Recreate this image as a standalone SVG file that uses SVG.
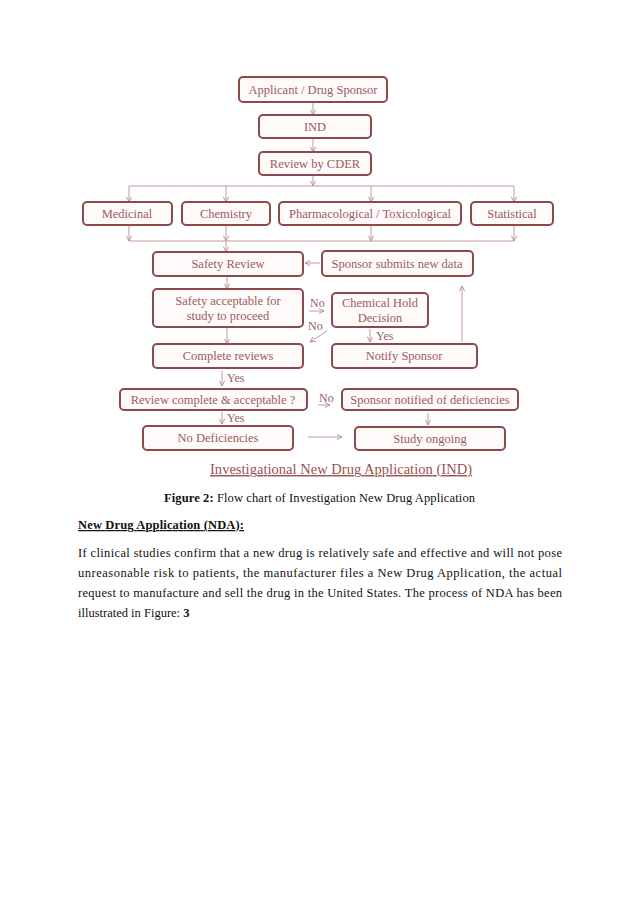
<svg xmlns="http://www.w3.org/2000/svg" width="638" height="903" viewBox="0 0 638 903">
<style>
.box{fill:#fffafa;stroke:#8c4a4a;stroke-width:2}
.bt{font-family:"Liberation Serif",serif;font-size:12.5px;fill:#9a5c5c;text-anchor:middle}
.lbl{font-family:"Liberation Serif",serif;font-size:12px;fill:#9a5c5c}
.c{fill:none;stroke:#c49a9a;stroke-width:1}
.ca{fill:none;stroke:#c49a9a;stroke-width:1;marker-end:url(#ah)}
.body{font-family:"Liberation Serif",serif;font-size:12.5px;fill:#111}
</style>
<defs>
<marker id="ah" viewBox="0 0 8 8" refX="7" refY="4" markerWidth="7" markerHeight="7" orient="auto" markerUnits="userSpaceOnUse">
<path d="M1,1 L7,4 L1,7" fill="none" stroke="#b58585" stroke-width="1"/>
</marker>
</defs>
<rect width="638" height="903" fill="#ffffff"/>
<g id="connectors">
<path class="ca" d="M313,102 V115"/>
<path class="ca" d="M313,138 V152"/>
<path class="ca" d="M313,175 V186"/>
<path class="c" d="M129,186 H514"/>
<path class="ca" d="M129,186 V202"/>
<path class="ca" d="M226,186 V202"/>
<path class="ca" d="M371,186 V202"/>
<path class="ca" d="M514,186 V202"/>
<path class="ca" d="M129,225 V241"/>
<path class="ca" d="M226,225 V241"/>
<path class="ca" d="M371,225 V241"/>
<path class="ca" d="M514,225 V241"/>
<path class="c" d="M129,241 H514"/>
<path class="ca" d="M226,241 V252"/>
<path class="ca" d="M227,276 V289"/>
<path class="ca" d="M227,327 V344"/>
<path class="ca" d="M320,263 H305"/>
<path class="ca" d="M309,311 H324"/>
<path class="ca" d="M327,331 L310,342"/>
<path class="ca" d="M370,329 V342"/>
<path class="ca" d="M462,342 V286"/>
<path class="ca" d="M222,371 V386"/>
<path class="ca" d="M318,405 H330"/>
<path class="ca" d="M222,412 V424"/>
<path class="ca" d="M428,413 V425"/>
<path class="ca" d="M308,437 H342"/>
<text class="lbl" x="310" y="307">No</text>
<text class="lbl" x="308" y="330">No</text>
<text class="lbl" x="376" y="340">Yes</text>
<text class="lbl" x="227" y="382">Yes</text>
<text class="lbl" x="319" y="402">No</text>
<text class="lbl" x="227" y="422">Yes</text>
</g>
<g id="applicant"><rect class="box" x="239" y="77" width="148" height="25" rx="4"/><text class="bt" x="313" y="94">Applicant / Drug Sponsor</text></g>
<g id="ind"><rect class="box" x="259" y="115" width="112" height="23" rx="4"/><text class="bt" x="315" y="131">IND</text></g>
<g id="review-cder"><rect class="box" x="259" y="152" width="112" height="23" rx="4"/><text class="bt" x="315" y="168">Review by CDER</text></g>
<g id="medicinal"><rect class="box" x="83" y="202" width="89" height="23" rx="4"/><text class="bt" x="127" y="218">Medicinal</text></g>
<g id="chemistry"><rect class="box" x="182" y="202" width="88" height="23" rx="4"/><text class="bt" x="226" y="218">Chemistry</text></g>
<g id="pharma"><rect class="box" x="279" y="202" width="182" height="23" rx="4"/><text class="bt" x="370" y="218">Pharmacological / Toxicological</text></g>
<g id="statistical"><rect class="box" x="471" y="202" width="82" height="23" rx="4"/><text class="bt" x="512" y="218">Statistical</text></g>
<g id="safety-review"><rect class="box" x="153" y="252" width="150" height="24" rx="4"/><text class="bt" x="228" y="268">Safety Review</text></g>
<g id="sponsor-submits"><rect class="box" x="322" y="251" width="151" height="25" rx="4"/><text class="bt" x="397" y="268">Sponsor submits new data</text></g>
<g id="safety-acceptable"><rect class="box" x="153" y="289" width="150" height="38" rx="4"/><text class="bt" x="228" y="305">Safety acceptable for</text><text class="bt" x="228" y="320">study to proceed</text></g>
<g id="chemical-hold"><rect class="box" x="332" y="293" width="96" height="34" rx="4"/><text class="bt" x="380" y="307">Chemical Hold</text><text class="bt" x="380" y="322">Decision</text></g>
<g id="complete-reviews"><rect class="box" x="153" y="344" width="150" height="24" rx="4"/><text class="bt" x="228" y="360">Complete reviews</text></g>
<g id="notify-sponsor"><rect class="box" x="332" y="344" width="145" height="24" rx="4"/><text class="bt" x="404" y="360">Notify Sponsor</text></g>
<g id="review-complete"><rect class="box" x="120" y="389" width="187" height="21" rx="4"/><text class="bt" x="213" y="404">Review complete &amp; acceptable ?</text></g>
<g id="sponsor-notified"><rect class="box" x="342" y="389" width="176" height="21" rx="4"/><text class="bt" x="430" y="404">Sponsor notified of deficiencies</text></g>
<g id="no-deficiencies"><rect class="box" x="143" y="426" width="150" height="24" rx="4"/><text class="bt" x="218" y="442">No Deficiencies</text></g>
<g id="study-ongoing"><rect class="box" x="355" y="427" width="150" height="23" rx="4"/><text class="bt" x="430" y="443">Study ongoing</text></g>
<g id="title"><text x="341" y="474" text-anchor="middle" font-family="'Liberation Serif',serif" font-size="14.5px" fill="#9a5050" text-decoration="underline" textLength="262" lengthAdjust="spacing">Investigational  New Drug Application (IND)</text></g>
<text class="body" x="164" y="502" textLength="311" lengthAdjust="spacing"><tspan font-weight="bold">Figure 2:</tspan> Flow chart of Investigation New Drug Application</text>
<text class="body" x="78" y="529" font-weight="bold" text-decoration="underline" textLength="166" lengthAdjust="spacing">New Drug Application (NDA):</text>
<text class="body" x="78" y="557" textLength="484" lengthAdjust="spacing">If clinical studies confirm that a new drug is relatively safe and effective and will not pose</text>
<text class="body" x="78" y="577" textLength="484" lengthAdjust="spacing">unreasonable risk to patients, the manufacturer files a New Drug Application, the actual</text>
<text class="body" x="78" y="597" textLength="484" lengthAdjust="spacing">request to manufacture and sell the drug in the United States. The process of NDA has been</text>
<text class="body" x="78" y="617">illustrated in Figure: <tspan font-weight="bold">3</tspan></text>
</svg>
